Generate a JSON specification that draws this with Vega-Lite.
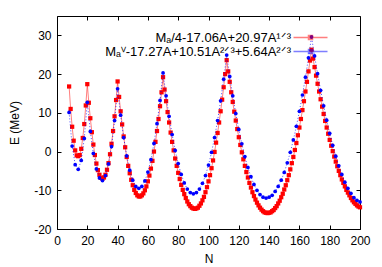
{
"$schema": "https://vega.github.io/schema/vega-lite/v6.json",
"width": 303, "height": 213,
"autosize": {"type": "none"},
"padding": {"left": 57, "top": 16, "right": 22, "bottom": 38},
"background": "white",
"datasets": {
"red": [
{"N":8,"E":16.8,"s":"r"},{"N":9,"E":11.0,"s":"r"},{"N":10,"E":6.4,"s":"r"},{"N":11,"E":2.8,"s":"r"},{"N":12,"E":0.3,"s":"r"},{"N":13,"E":-1.0,"s":"r"},{"N":14,"E":-1.2,"s":"r"},{"N":15,"E":-0.9,"s":"r"},{"N":16,"E":0.7,"s":"r"},{"N":17,"E":3.5,"s":"r"},{"N":18,"E":7.1,"s":"r"},{"N":19,"E":11.9,"s":"r"},{"N":20,"E":17.4,"s":"r"},
{"N":21,"E":12.6,"s":"r"},{"N":22,"E":8.6,"s":"r"},{"N":23,"E":5.0,"s":"r"},{"N":24,"E":1.8,"s":"r"},{"N":25,"E":-0.9,"s":"r"},{"N":26,"E":-3.1,"s":"r"},{"N":27,"E":-4.8,"s":"r"},{"N":28,"E":-6.0,"s":"r"},{"N":29,"E":-6.8,"s":"r"},{"N":30,"E":-7.0,"s":"r"},{"N":31,"E":-6.7,"s":"r"},{"N":32,"E":-6.0,"s":"r"},{"N":33,"E":-4.7,"s":"r"},{"N":34,"E":-3.0,"s":"r"},{"N":35,"E":-0.7,"s":"r"},{"N":36,"E":2.0,"s":"r"},{"N":37,"E":5.3,"s":"r"},{"N":38,"E":9.1,"s":"r"},{"N":39,"E":13.3,"s":"r"},{"N":40,"E":18.1,"s":"r"},
{"N":41,"E":14.1,"s":"r"},{"N":42,"E":10.4,"s":"r"},{"N":43,"E":7.0,"s":"r"},{"N":44,"E":3.9,"s":"r"},{"N":45,"E":1.1,"s":"r"},{"N":46,"E":-1.4,"s":"r"},{"N":47,"E":-3.7,"s":"r"},{"N":48,"E":-5.6,"s":"r"},{"N":49,"E":-7.3,"s":"r"},{"N":50,"E":-8.7,"s":"r"},{"N":51,"E":-9.9,"s":"r"},{"N":52,"E":-10.7,"s":"r"},{"N":53,"E":-11.3,"s":"r"},{"N":54,"E":-11.6,"s":"r"},{"N":55,"E":-11.6,"s":"r"},{"N":56,"E":-11.3,"s":"r"},{"N":57,"E":-10.8,"s":"r"},{"N":58,"E":-10.0,"s":"r"},{"N":59,"E":-9.0,"s":"r"},{"N":60,"E":-7.7,"s":"r"},{"N":61,"E":-6.2,"s":"r"},{"N":62,"E":-4.4,"s":"r"},{"N":63,"E":-2.4,"s":"r"},{"N":64,"E":0.0,"s":"r"},{"N":65,"E":2.5,"s":"r"},{"N":66,"E":5.3,"s":"r"},{"N":67,"E":8.4,"s":"r"},{"N":68,"E":11.7,"s":"r"},{"N":69,"E":15.3,"s":"r"},{"N":70,"E":19.2,"s":"r"},
{"N":71,"E":16.0,"s":"r"},{"N":72,"E":13.0,"s":"r"},{"N":73,"E":10.2,"s":"r"},{"N":74,"E":7.5,"s":"r"},{"N":75,"E":4.9,"s":"r"},{"N":76,"E":2.5,"s":"r"},{"N":77,"E":0.3,"s":"r"},{"N":78,"E":-1.8,"s":"r"},{"N":79,"E":-3.7,"s":"r"},{"N":80,"E":-5.5,"s":"r"},{"N":81,"E":-7.1,"s":"r"},{"N":82,"E":-8.6,"s":"r"},{"N":83,"E":-9.9,"s":"r"},{"N":84,"E":-11.0,"s":"r"},{"N":85,"E":-12.0,"s":"r"},{"N":86,"E":-12.9,"s":"r"},{"N":87,"E":-13.6,"s":"r"},{"N":88,"E":-14.1,"s":"r"},{"N":89,"E":-14.5,"s":"r"},{"N":90,"E":-14.7,"s":"r"},{"N":91,"E":-14.8,"s":"r"},{"N":92,"E":-14.7,"s":"r"},{"N":93,"E":-14.5,"s":"r"},{"N":94,"E":-14.0,"s":"r"},{"N":95,"E":-13.4,"s":"r"},{"N":96,"E":-12.6,"s":"r"},{"N":97,"E":-11.7,"s":"r"},{"N":98,"E":-10.5,"s":"r"},{"N":99,"E":-9.2,"s":"r"},{"N":100,"E":-7.7,"s":"r"},{"N":101,"E":-6.1,"s":"r"},{"N":102,"E":-4.3,"s":"r"},{"N":103,"E":-2.3,"s":"r"},{"N":104,"E":-0.1,"s":"r"},{"N":105,"E":2.3,"s":"r"},{"N":106,"E":4.8,"s":"r"},{"N":107,"E":7.5,"s":"r"},{"N":108,"E":10.4,"s":"r"},{"N":109,"E":13.4,"s":"r"},{"N":110,"E":16.6,"s":"r"},{"N":111,"E":20.0,"s":"r"},{"N":112,"E":23.6,"s":"r"},
{"N":113,"E":20.7,"s":"r"},{"N":114,"E":18.0,"s":"r"},{"N":115,"E":15.3,"s":"r"},{"N":116,"E":12.8,"s":"r"},{"N":117,"E":10.3,"s":"r"},{"N":118,"E":8.0,"s":"r"},{"N":119,"E":5.8,"s":"r"},{"N":120,"E":3.7,"s":"r"},{"N":121,"E":1.7,"s":"r"},{"N":122,"E":-0.2,"s":"r"},{"N":123,"E":-2.0,"s":"r"},{"N":124,"E":-3.7,"s":"r"},{"N":125,"E":-5.3,"s":"r"},{"N":126,"E":-6.7,"s":"r"},{"N":127,"E":-8.1,"s":"r"},{"N":128,"E":-9.3,"s":"r"},{"N":129,"E":-10.5,"s":"r"},{"N":130,"E":-11.5,"s":"r"},{"N":131,"E":-12.4,"s":"r"},{"N":132,"E":-13.2,"s":"r"},{"N":133,"E":-13.9,"s":"r"},{"N":134,"E":-14.5,"s":"r"},{"N":135,"E":-15.0,"s":"r"},{"N":136,"E":-15.4,"s":"r"},{"N":137,"E":-15.7,"s":"r"},{"N":138,"E":-15.8,"s":"r"},{"N":139,"E":-15.9,"s":"r"},{"N":140,"E":-15.8,"s":"r"},{"N":141,"E":-15.7,"s":"r"},{"N":142,"E":-15.4,"s":"r"},{"N":143,"E":-15.1,"s":"r"},{"N":144,"E":-14.6,"s":"r"},{"N":145,"E":-14.1,"s":"r"},{"N":146,"E":-13.4,"s":"r"},{"N":147,"E":-12.7,"s":"r"},{"N":148,"E":-11.8,"s":"r"},{"N":149,"E":-10.9,"s":"r"},{"N":150,"E":-9.8,"s":"r"},{"N":151,"E":-8.7,"s":"r"},{"N":152,"E":-7.4,"s":"r"},{"N":153,"E":-6.1,"s":"r"},{"N":154,"E":-4.6,"s":"r"},{"N":155,"E":-3.0,"s":"r"},{"N":156,"E":-1.4,"s":"r"},{"N":157,"E":0.4,"s":"r"},{"N":158,"E":2.2,"s":"r"},{"N":159,"E":4.2,"s":"r"},{"N":160,"E":6.2,"s":"r"},{"N":161,"E":8.4,"s":"r"},{"N":162,"E":10.7,"s":"r"},{"N":163,"E":13.0,"s":"r"},{"N":164,"E":15.5,"s":"r"},{"N":165,"E":18.0,"s":"r"},{"N":166,"E":20.7,"s":"r"},{"N":167,"E":23.5,"s":"r"},{"N":168,"E":26.3,"s":"r"},
{"N":169,"E":24.0,"s":"r"},{"N":170,"E":21.8,"s":"r"},{"N":171,"E":19.6,"s":"r"},{"N":172,"E":17.5,"s":"r"},{"N":173,"E":15.5,"s":"r"},{"N":174,"E":13.5,"s":"r"},{"N":175,"E":11.6,"s":"r"},{"N":176,"E":9.7,"s":"r"},{"N":177,"E":7.9,"s":"r"},{"N":178,"E":6.2,"s":"r"},{"N":179,"E":4.6,"s":"r"},{"N":180,"E":3.0,"s":"r"},{"N":181,"E":1.5,"s":"r"},{"N":182,"E":0.1,"s":"r"},{"N":183,"E":-1.3,"s":"r"},{"N":184,"E":-2.6,"s":"r"},{"N":185,"E":-3.8,"s":"r"},{"N":186,"E":-5.0,"s":"r"},{"N":187,"E":-6.1,"s":"r"},{"N":188,"E":-7.2,"s":"r"},{"N":189,"E":-8.1,"s":"r"},{"N":190,"E":-9.0,"s":"r"},{"N":191,"E":-9.9,"s":"r"},{"N":192,"E":-10.6,"s":"r"},{"N":193,"E":-11.3,"s":"r"},{"N":194,"E":-12.0,"s":"r"},{"N":195,"E":-12.6,"s":"r"},{"N":196,"E":-13.1,"s":"r"},{"N":197,"E":-13.5,"s":"r"},{"N":198,"E":-13.9,"s":"r"},{"N":199,"E":-14.2,"s":"r"},{"N":200,"E":-14.4,"s":"r"}
],
"blue": [
{"N":8,"E":10.1,"s":"b"},{"N":10,"E":1.4,"s":"b"},{"N":12,"E":-3.4,"s":"b"},{"N":14,"E":-4.6,"s":"b"},{"N":16,"E":-2.3,"s":"b"},{"N":18,"E":3.4,"s":"b"},{"N":20,"E":12.7,"s":"b"},{"N":22,"E":5.2,"s":"b"},{"N":24,"E":-0.5,"s":"b"},{"N":26,"E":-4.5,"s":"b"},{"N":28,"E":-6.8,"s":"b"},{"N":30,"E":-7.5,"s":"b"},{"N":32,"E":-6.2,"s":"b"},{"N":34,"E":-3.2,"s":"b"},{"N":36,"E":1.3,"s":"b"},{"N":38,"E":8.0,"s":"b"},{"N":40,"E":16.2,"s":"b"},
{"N":42,"E":9.4,"s":"b"},{"N":44,"E":3.6,"s":"b"},{"N":46,"E":-1.1,"s":"b"},{"N":48,"E":-4.8,"s":"b"},{"N":50,"E":-7.4,"s":"b"},{"N":52,"E":-9.0,"s":"b"},{"N":54,"E":-9.5,"s":"b"},{"N":56,"E":-9.0,"s":"b"},{"N":58,"E":-7.6,"s":"b"},{"N":60,"E":-5.3,"s":"b"},{"N":62,"E":-2.1,"s":"b"},{"N":64,"E":2.1,"s":"b"},{"N":66,"E":7.2,"s":"b"},{"N":68,"E":13.2,"s":"b"},{"N":70,"E":20.3,"s":"b"},
{"N":72,"E":14.4,"s":"b"},{"N":74,"E":9.1,"s":"b"},{"N":76,"E":4.4,"s":"b"},{"N":78,"E":0.3,"s":"b"},{"N":80,"E":-3.1,"s":"b"},{"N":82,"E":-5.9,"s":"b"},{"N":84,"E":-8.1,"s":"b"},{"N":86,"E":-9.7,"s":"b"},{"N":88,"E":-10.6,"s":"b"},{"N":90,"E":-10.9,"s":"b"},{"N":92,"E":-10.6,"s":"b"},{"N":94,"E":-9.7,"s":"b"},{"N":96,"E":-8.2,"s":"b"},{"N":98,"E":-6.2,"s":"b"},{"N":100,"E":-3.5,"s":"b"},{"N":102,"E":-0.2,"s":"b"},{"N":104,"E":3.6,"s":"b"},{"N":106,"E":8.0,"s":"b"},{"N":108,"E":13.1,"s":"b"},{"N":110,"E":18.7,"s":"b"},{"N":112,"E":24.9,"s":"b"},
{"N":114,"E":19.4,"s":"b"},{"N":116,"E":14.4,"s":"b"},{"N":118,"E":9.8,"s":"b"},{"N":120,"E":5.7,"s":"b"},{"N":122,"E":2.0,"s":"b"},{"N":124,"E":-1.3,"s":"b"},{"N":126,"E":-4.1,"s":"b"},{"N":128,"E":-6.5,"s":"b"},{"N":130,"E":-8.5,"s":"b"},{"N":132,"E":-10.0,"s":"b"},{"N":134,"E":-11.1,"s":"b"},{"N":136,"E":-11.8,"s":"b"},{"N":138,"E":-12.0,"s":"b"},{"N":140,"E":-11.8,"s":"b"},{"N":142,"E":-11.3,"s":"b"},{"N":144,"E":-10.3,"s":"b"},{"N":146,"E":-9.0,"s":"b"},{"N":148,"E":-7.4,"s":"b"},{"N":150,"E":-5.4,"s":"b"},{"N":152,"E":-2.9,"s":"b"},{"N":154,"E":-0.2,"s":"b"},{"N":156,"E":3.0,"s":"b"},{"N":158,"E":6.5,"s":"b"},{"N":160,"E":10.4,"s":"b"},{"N":162,"E":14.6,"s":"b"},{"N":164,"E":19.2,"s":"b"},{"N":166,"E":24.2,"s":"b"},{"N":168,"E":29.6,"s":"b"},
{"N":170,"E":24.7,"s":"b"},{"N":172,"E":20.1,"s":"b"},{"N":174,"E":15.8,"s":"b"},{"N":176,"E":11.8,"s":"b"},{"N":178,"E":8.1,"s":"b"},{"N":180,"E":4.7,"s":"b"},{"N":182,"E":1.6,"s":"b"},{"N":184,"E":-1.2,"s":"b"},{"N":186,"E":-3.7,"s":"b"},{"N":188,"E":-5.9,"s":"b"},{"N":190,"E":-7.9,"s":"b"},{"N":192,"E":-9.5,"s":"b"},{"N":194,"E":-10.8,"s":"b"},{"N":196,"E":-11.9,"s":"b"},{"N":198,"E":-12.6,"s":"b"},{"N":200,"E":-13.0,"s":"b"}
]
},
"encoding": {
  "x": {"field": "N", "type": "quantitative",
        "scale": {"domain": [0, 200], "nice": false, "zero": false},
        "axis": {"title": "N", "values": [0,20,40,60,80,100,120,140,160,180,200], "gridDash": [4, 205], "labelPadding": 6, "titlePadding": 7, "labelFlush": false, "labelOverlap": false, "labelExpr": "'' + datum.value"}},
  "y": {"field": "E", "type": "quantitative",
        "scale": {"domain": [-20, 35], "nice": false, "zero": false},
        "axis": {"title": "E (MeV)", "values": [-20,-10,0,10,20,30], "gridDash": [4, 295], "labelPadding": 6, "titlePadding": 12, "labelFlush": false, "labelOverlap": false, "labelExpr": "'' + datum.value"}},
  "color": {"field": "s", "type": "nominal",
        "scale": {"domain": ["r", "b"], "range": ["#ff0000", "#0000ff"]},
        "legend": {"orient": "none", "legendX": 247, "legendY": 15, "title": null, "padding": 0, "offset": 0,
                   "labelAlign": "right", "labelOffset": -26, "labelFontSize": 13, "labelFont": "Liberation Sans", "labelColor": "black", "labelLimit": 400,
                   "symbolSize": 16, "symbolType": "M-8.5,0H8.5M-1,-1H1V1H-1Z", "rowPadding": -3,
                   "labelExpr": "datum.value == 'r' ? 'Mₐ/4-17.06A+20.97A¹ᐟ³' : 'Mₐⱽ-17.27A+10.51A²ᐟ³+5.64A²ᐟ³'",
                   "encode": {"symbols": {"update": {
                      "shape": {"signal": "datum.value == 'r' ? 'M-8.5,0H8.5M-1,-1H1V1H-1Z' : 'M-8.5,0H8.5M1.1,0A1.1,1.1 0 1,1 -1.1,0A1.1,1.1 0 1,1 1.1,0Z'"},
                      "fill": {"signal": "datum.value == 'r' ? '#ff0000' : '#0000ff'"},
                      "stroke": {"signal": "datum.value == 'r' ? '#ff7777' : '#7777ff'"},
                      "strokeDash": {"signal": "datum.value == 'r' ? [1,0] : [1,2]"},
                      "strokeWidth": {"value": 1},
                      "opacity": {"value": 1}}}}}}
},
"layer": [
  {"data": {"name": "red"}, "mark": {"type": "line", "strokeWidth": 1, "opacity": 0.5}},
  {"data": {"name": "red"}, "mark": {"type": "point", "shape": "square", "filled": true, "size": 18, "opacity": 1}},
  {"data": {"name": "blue"}, "mark": {"type": "line", "strokeWidth": 1, "strokeDash": [1, 2], "opacity": 0.7}},
  {"data": {"name": "blue"}, "mark": {"type": "point", "shape": "circle", "filled": true, "size": 14, "opacity": 1}}
],
"config": {
  "font": "Liberation Sans",
  "view": {"stroke": "black", "strokeWidth": 1},
  "axis": {"domain": false, "ticks": false, "tickSize": 0, "grid": true, "gridColor": "black", "gridOpacity": 1, "gridWidth": 1,
           "labelFontSize": 12, "labelColor": "black", "labelFont": "Liberation Sans",
           "titleFontSize": 12, "titleFontWeight": "normal", "titleColor": "black", "titleFont": "Liberation Sans"}
}
}
